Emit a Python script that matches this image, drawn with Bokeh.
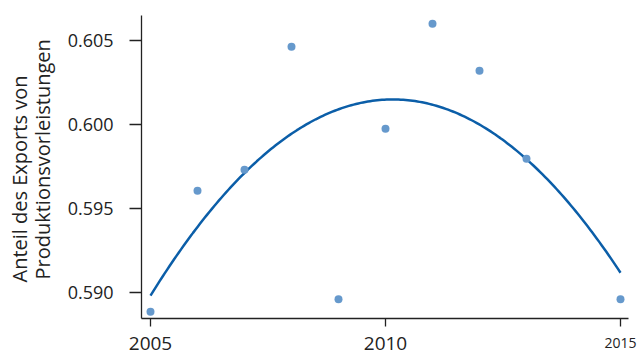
import math
import numpy as np
from bokeh.plotting import figure
from bokeh.models import Range1d, FixedTicker, Label, PrintfTickFormatter, LinearAxis
from bokeh.embed import file_html
from bokeh.resources import INLINE

years = [2005, 2006, 2007, 2008, 2009, 2010, 2011, 2012, 2013, 2015]
share = [0.58887, 0.59607, 0.59732, 0.60464, 0.58962, 0.59976, 0.60601, 0.60321, 0.59798, 0.58962]
x_ticks = [2005, 2010, 2015]
y_ticks = [0.590, 0.595, 0.600, 0.605]
y_title_1 = "Anteil des Exports von"
y_title_2 = "Produktionsvorleistungen"

FONT = "Open Sans"
X_LO, X_HI = 2004.81, 2015.17
Y_LO, Y_HI = 0.58847, 0.60650

p = figure(width=638, height=352, output_backend="svg", toolbar_location=None,
           x_range=Range1d(2001.8085, 2015.383), y_range=Range1d(0.586451, 0.607390),
           min_border_left=0, min_border_right=0, min_border_top=0, min_border_bottom=0,
           x_axis_location=None, y_axis_location=None)
p.outline_line_color = None
p.xgrid.grid_line_color = None
p.ygrid.grid_line_color = None
p.background_fill_color = "white"
p.border_fill_color = "white"

xax = LinearAxis(fixed_location=Y_LO, bounds=(X_LO, X_HI))
yax = LinearAxis(fixed_location=X_LO, bounds=(Y_LO, Y_HI))
p.add_layout(xax, "below")
p.add_layout(yax, "left")

# quadratic trend fitted to the data
coef = np.polyfit(np.array(years, dtype=float) - 2010, np.array(share), 2)
xs = np.linspace(min(years), max(years), 200)
ys = np.polyval(coef, xs - 2010)
p.line(xs, ys, line_color="#0b5ea8", line_width=2.5)
p.scatter(years, share, size=8, fill_color="#6699cc", line_color=None)

for ax in (xax, yax):
    ax.axis_line_color = "#222222"
    ax.axis_line_width = 1.3
    ax.major_tick_line_color = "#222222"
    ax.major_tick_line_width = 1.3
    ax.minor_tick_line_color = None
    ax.major_label_text_font = FONT
    ax.major_label_text_color = "#222222"

xax.ticker = FixedTicker(ticks=x_ticks)
xax.major_label_overrides = {2015: ""}
xax.major_tick_out = 8
xax.major_tick_in = 0
xax.major_label_text_font_size = "19px"
xax.major_label_standoff = 10

yax.ticker = FixedTicker(ticks=y_ticks)
yax.formatter = PrintfTickFormatter(format="%.3f")
yax.major_tick_out = 12
yax.major_tick_in = 0
yax.major_label_text_font_size = "18px"
yax.major_label_standoff = 16

p.add_layout(Label(x=2015, y=15, x_units="data", y_units="screen", text="2015", text_font=FONT,
                   text_font_size="14px", text_align="center", text_baseline="top",
                   text_color="#222222"))

for t, sx, sy in ((y_title_1, 5, 70), (y_title_2, 28, 73)):
    p.add_layout(Label(x=sx, y=sy, x_units="screen", y_units="screen", text=t,
                       angle=math.pi / 2, text_font=FONT, text_font_size="20px",
                       text_align="left", text_baseline="top", text_color="#222222"))

open("out.html", "w").write(file_html(p, INLINE))
